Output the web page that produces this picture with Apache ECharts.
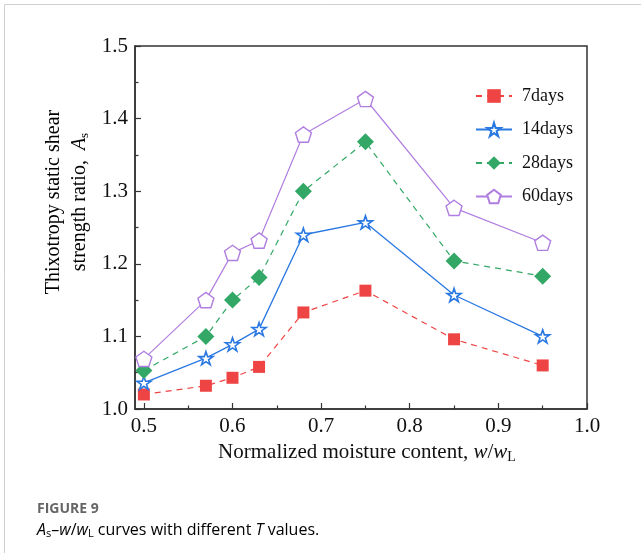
<!DOCTYPE html>
<html>
<head>
<meta charset="utf-8">
<script src="https://cdn.jsdelivr.net/npm/echarts@6/dist/echarts.min.js"></script>
<style>
html, body { margin: 0; padding: 0; background: #fff; }
#chart { width: 641px; height: 553px; }
</style>
</head>
<body>
<div id="chart"></div>
<script>
// moisture content w/wL
var xValues = [0.50, 0.57, 0.60, 0.63, 0.68, 0.75, 0.85, 0.95];
// As for each curing time
var d7  = [1.020, 1.032, 1.043, 1.058, 1.133, 1.163, 1.096, 1.060];
var d14 = [1.036, 1.070, 1.089, 1.110, 1.240, 1.257, 1.157, 1.100];
var d28 = [1.053, 1.100, 1.150, 1.181, 1.300, 1.368, 1.204, 1.183];
var d60 = [1.069, 1.150, 1.215, 1.232, 1.378, 1.427, 1.277, 1.229];
var seriesNames = ['7days', '14days', '28days', '60days'];
var xTicks = [0.5, 0.6, 0.7, 0.8, 0.9, 1.0];
var xMinorTicks = [0.55, 0.65, 0.75, 0.85, 0.95];

var serif = 'Liberation Serif';
var axisColor = '#333';
var STAR = 'path://M50,2 L61.2,36.1 L97.6,36.1 L68.2,57.4 L79.4,91.5 L50,70.4 L20.6,91.5 L31.8,57.4 L2.4,36.1 L38.8,36.1 Z';
var PENTA = 'path://M50,3 L97,37 L79,93 L21,93 L3,37 Z';

function pairs(ys) {
    return xValues.map(function (x, i) { return [x, ys[i]]; });
}

var chart = echarts.init(document.getElementById('chart'));

var option = {
    backgroundColor: '#fff',
    animation: false,
    textStyle: { fontFamily: serif },
    grid: { left: 135, right: 54, top: 46, bottom: 144, show: true, borderColor: axisColor, borderWidth: 1.5, backgroundColor: 'transparent' },
    legend: {
        orient: 'vertical',
        left: 470,
        top: 82,
        itemWidth: 36,
        itemHeight: 17,
        itemGap: 15.5,
        data: seriesNames,
        textStyle: { fontFamily: serif, fontSize: 18, color: '#111', padding: [0, 0, 0, 5] }
    },
    xAxis: [{
        type: 'value',
        min: 0.49,
        max: 1.0,
        position: 'bottom',
        axisLine: { lineStyle: { color: axisColor, width: 1.5 } },
        axisTick: { inside: true, length: 6, customValues: xTicks, lineStyle: { color: axisColor, width: 1.2 } },
        axisLabel: { customValues: xTicks, fontFamily: serif, fontSize: 21, color: '#111', margin: 7,
            formatter: function (v) { return v.toFixed(1); } },
        splitLine: { show: false },
        name: '{n|Normalized moisture content, }{i|w}{n|/}{i|w}{sub|L}',
        nameLocation: 'middle',
        nameGap: 30,
        nameTextStyle: {
            padding: [0, 0, 0, 12],
            rich: {
                n: { fontFamily: serif, fontSize: 21, color: '#111' },
                i: { fontFamily: serif, fontSize: 21, fontStyle: 'italic', color: '#111' },
                sub: { fontFamily: serif, fontSize: 14, color: '#111', padding: [10, 0, 0, 0] }
            }
        }
    }, {
        type: 'value',
        min: 0.49,
        max: 1.0,
        position: 'bottom',
        axisLine: { show: false },
        axisTick: { inside: true, length: 3.5, customValues: xMinorTicks, lineStyle: { color: axisColor, width: 1.2 } },
        axisLabel: { show: false },
        splitLine: { show: false }
    }],
    yAxis: {
        type: 'value',
        min: 1.0,
        max: 1.5,
        interval: 0.1,
        axisLine: { show: true, lineStyle: { color: axisColor, width: 1.5 } },
        axisTick: { show: true, inside: true, length: 6, lineStyle: { color: axisColor, width: 1.2 } },
        minorTick: { show: true, splitNumber: 2, length: 3.5, lineStyle: { color: axisColor, width: 1.2 } },
        axisLabel: { fontFamily: serif, fontSize: 21, color: '#111', margin: 7,
            formatter: function (v) { return v.toFixed(1); } },
        splitLine: { show: false }
    },
    graphic: [
        { type: 'line', shape: { x1: 4.5, y1: 4.5, x2: 641, y2: 4.5 }, style: { stroke: '#cfcfcf', lineWidth: 1 } },
        { type: 'line', shape: { x1: 4.5, y1: 4.5, x2: 4.5, y2: 553 }, style: { stroke: '#cfcfcf', lineWidth: 1 } },
        {
            type: 'text', x: 67, y: 202, rotation: Math.PI / 2,
            style: {
                text: '{n|Thixotropy static shear}\n{n|strength ratio,  }{i|A}{sub|s}',
                align: 'center', verticalAlign: 'middle', lineHeight: 26,
                rich: {
                    n: { fontFamily: serif, fontSize: 20, color: '#111', lineHeight: 26 },
                    i: { fontFamily: serif, fontSize: 20, fontStyle: 'italic', color: '#111', lineHeight: 26 },
                    sub: { fontFamily: serif, fontSize: 13, color: '#111', lineHeight: 26, padding: [9, 0, 0, 0] }
                }
            }
        },
        {
            type: 'text', left: 37, top: 502,
            style: { text: 'FIGURE 9', fontFamily: 'Open Sans', fontWeight: 'bold', fontSize: 14, fill: '#666' }
        },
        {
            type: 'text', left: 37, top: 522,
            style: {
                text: '{i|A}{s|s}{n|\u2013}{i|w}{n|/}{i|w}{s|L}{n| curves with different }{i|T}{n| values.}',
                rich: {
                    n: { fontFamily: 'Open Sans', fontSize: 16, color: '#666' },
                    i: { fontFamily: 'Open Sans', fontSize: 16, fontStyle: 'italic', color: '#666' },
                    s: { fontFamily: 'Open Sans', fontSize: 11, color: '#666', padding: [8, 0, 0, 0] }
                }
            }
        }
    ],
    series: [{
        name: seriesNames[0],
        type: 'line',
        data: pairs(d7),
        symbol: 'rect',
        symbolSize: 12,
        itemStyle: { color: '#ef4444' },
        lineStyle: { color: '#ef4444', width: 1.2, type: [6, 5] }
    }, {
        name: seriesNames[1],
        type: 'line',
        data: pairs(d14),
        symbol: STAR,
        symbolSize: 14,
        symbolKeepAspect: true,
        itemStyle: { color: '#fff', borderColor: '#2a78e2', borderWidth: 1.6 },
        lineStyle: { color: '#2a78e2', width: 1.3 },
        z: 3
    }, {
        name: seriesNames[2],
        type: 'line',
        data: pairs(d28),
        symbol: 'diamond',
        symbolSize: 17,
        itemStyle: { color: '#33a866' },
        lineStyle: { color: '#33a866', width: 1.2, type: [6, 5] }
    }, {
        name: seriesNames[3],
        type: 'line',
        data: pairs(d60),
        symbol: PENTA,
        symbolSize: 16,
        symbolKeepAspect: true,
        itemStyle: { color: '#fff', borderColor: '#b07ee0', borderWidth: 1.4 },
        lineStyle: { color: '#b07ee0', width: 1.2 },
        z: 3
    }]
};

chart.setOption(option);
</script>
</body>
</html>
